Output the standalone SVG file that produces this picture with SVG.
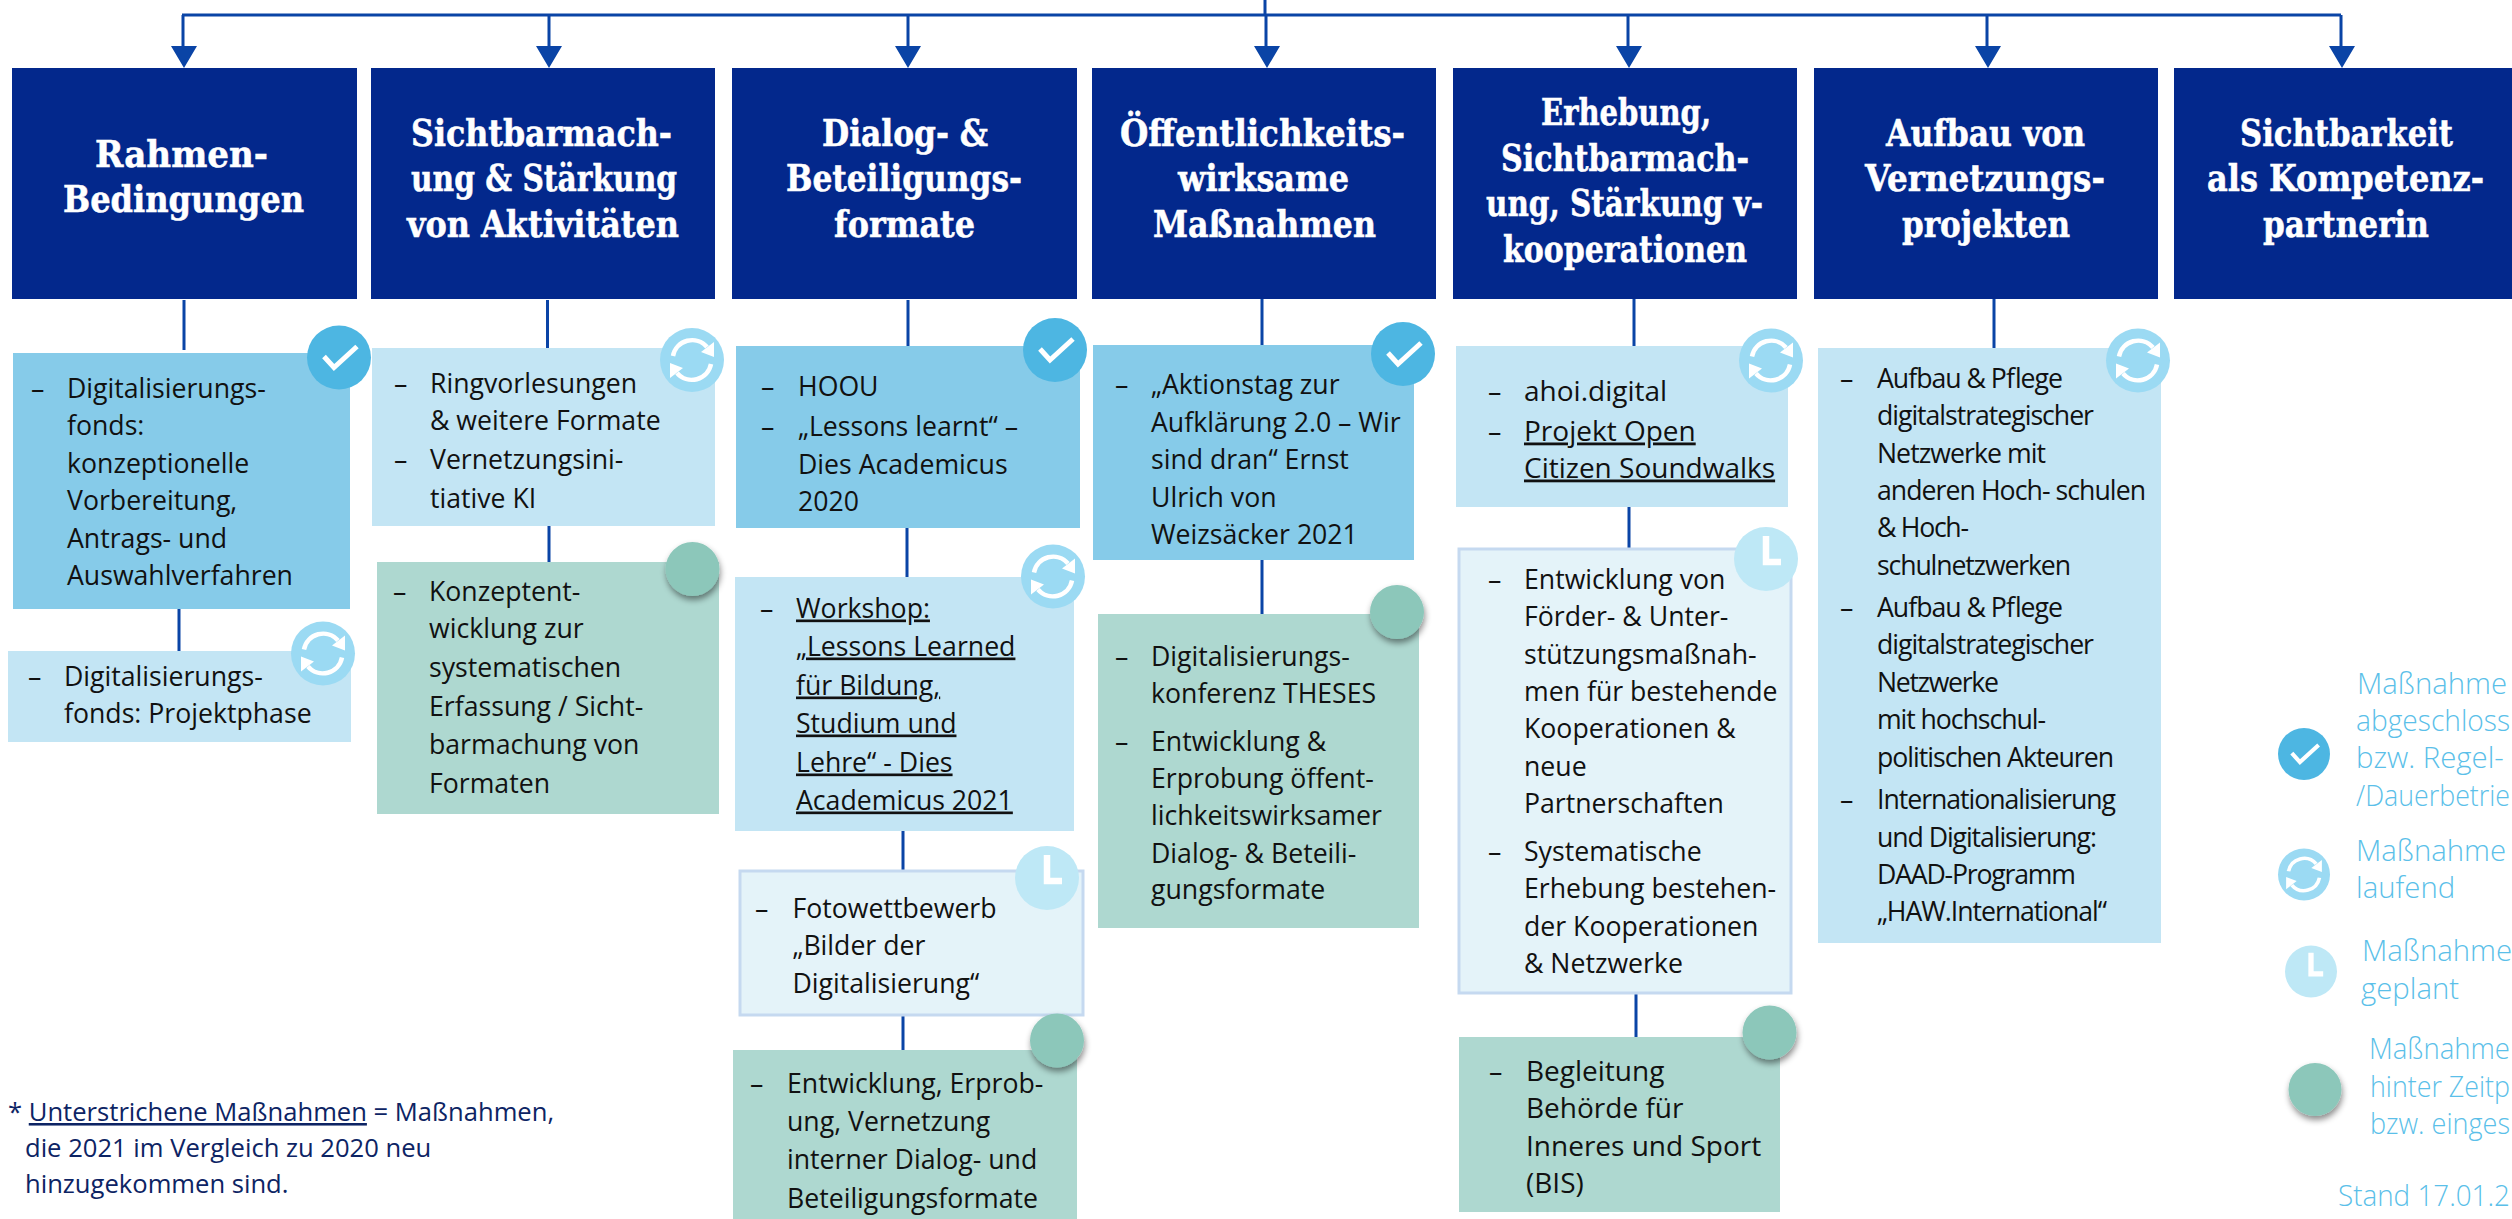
<svg xmlns="http://www.w3.org/2000/svg" width="2512" height="1219" viewBox="0 0 2512 1219">
<style>
.h{fill:#03288c}
.t{font-family:"DejaVu Serif Condensed","DejaVu Serif","Liberation Serif",serif;font-weight:700;font-size:37px;fill:#fff;stroke:#fff;stroke-width:.5}
.b{font-family:"Open Sans","Noto Sans",sans-serif;font-size:26.67px;fill:#111;transform:translateY(.5px)}
.k{font-size:28px}
.u{text-decoration:underline}
.m{fill:#86cbe9}.l{fill:#c3e5f4}.g{fill:#aed8d0}
.p{fill:#e4f3f9;stroke:#c5d9f0;stroke-width:3}
.c{stroke:#0a44a6;stroke-width:3;fill:none}
.a{fill:#0a44a6}
.lg{font-family:"Open Sans","Noto Sans",sans-serif;font-weight:300;font-size:29.33px;fill:#5bbfe9}
.f{font-family:"Open Sans","Noto Sans",sans-serif;font-size:25.6px;fill:#0d2464}
</style>
<defs>
<filter id="sh" x="-30%" y="-30%" width="160%" height="170%"><feDropShadow dx="1" dy="4" stdDeviation="3" flood-color="#000" flood-opacity="0.45"/></filter>
<g id="ic-check"><circle r="32" fill="#4db6e2"/><path d="M-15,-1 L-5,10 L18,-11" fill="none" stroke="#fff" stroke-width="5"/></g>
<g id="ic-ref"><circle r="32" fill="#9bdaf3"/><g fill="none" stroke="#fff" stroke-width="4.5"><path d="M-19,-4 A19.5,19.5 0 0 1 15,-13"/><path d="M19,4 A19.5,19.5 0 0 1 -15,13"/></g><path d="M9,-8 L22,-3 L22,-18 Z M-9,8 L-22,3 L-22,18 Z" fill="#fff"/></g>
<g id="ic-clock"><circle r="32" fill="#bee8f6"/><path d="M0,-23 V3 H15" fill="none" stroke="#fff" stroke-width="6.5"/></g>
<circle id="ic-g" r="27" fill="#8cc7ba" filter="url(#sh)"/>
</defs>
<g id="connectors">
<path class="c" d="M1265,0 V15 M182,15 H2341 M183,15 V50 M549,15 V50 M908,15 V50 M1266,15 V50 M1628,15 V50 M1987,15 V50 M2341,15 V50"/>
<path class="a" d="M171,46 H197 L184,68 Z M536,46 H562 L549,68 Z M895,46 H921 L908,68 Z M1254,46 H1280 L1267,68 Z M1616,46 H1642 L1629,68 Z M1975,46 H2001 L1988,68 Z M2329,46 H2355 L2342,68 Z"/>
<path class="c" d="M184,300 V350 M179,609 V651 M547.5,300 V350 M549,526 V562 M908,300 V346 M907,528 V577 M903,831 V871 M903,1015 V1050 M1262,299 V347 M1262,560 V614 M1634,299 V346 M1629,507 V549 M1636,993 V1037 M1994,299 V348"/>
</g>
<g id="h1"><rect class="h" x="12" y="68" width="345" height="231"/><text class="t" x="95" y="167" textLength="173" lengthAdjust="spacingAndGlyphs">Rahmen-</text><text class="t" x="63" y="212" textLength="241" lengthAdjust="spacingAndGlyphs">Bedingungen</text></g>
<g id="h2"><rect class="h" x="371" y="68" width="344" height="231"/><text class="t" x="411" y="146" textLength="261" lengthAdjust="spacingAndGlyphs">Sichtbarmach-</text><text class="t" x="411" y="191" textLength="266" lengthAdjust="spacingAndGlyphs">ung &amp; Stärkung</text><text class="t" x="407" y="237" textLength="272" lengthAdjust="spacingAndGlyphs">von Aktivitäten</text></g>
<g id="h3"><rect class="h" x="732" y="68" width="345" height="231"/><text class="t" x="822" y="146" textLength="166" lengthAdjust="spacingAndGlyphs">Dialog- &amp;</text><text class="t" x="786" y="191" textLength="236" lengthAdjust="spacingAndGlyphs">Beteiligungs-</text><text class="t" x="834" y="237" textLength="141" lengthAdjust="spacingAndGlyphs">formate</text></g>
<g id="h4"><rect class="h" x="1092" y="68" width="344" height="231"/><text class="t" x="1120" y="146" textLength="285" lengthAdjust="spacingAndGlyphs">Öffentlichkeits-</text><text class="t" x="1178" y="191" textLength="171" lengthAdjust="spacingAndGlyphs">wirksame</text><text class="t" x="1153" y="237" textLength="223" lengthAdjust="spacingAndGlyphs">Maßnahmen</text></g>
<g id="h5"><rect class="h" x="1453" y="68" width="344" height="231"/><text class="t" x="1541" y="125" textLength="170" lengthAdjust="spacingAndGlyphs">Erhebung,</text><text class="t" x="1501" y="171" textLength="248" lengthAdjust="spacingAndGlyphs">Sichtbarmach-</text><text class="t" x="1486" y="216" textLength="277" lengthAdjust="spacingAndGlyphs">ung, Stärkung v-</text><text class="t" x="1503" y="262" textLength="244" lengthAdjust="spacingAndGlyphs">kooperationen</text></g>
<g id="h6"><rect class="h" x="1814" y="68" width="344" height="231"/><text class="t" x="1886" y="146" textLength="199" lengthAdjust="spacingAndGlyphs">Aufbau von</text><text class="t" x="1865" y="191" textLength="240" lengthAdjust="spacingAndGlyphs">Vernetzungs-</text><text class="t" x="1902" y="237" textLength="168" lengthAdjust="spacingAndGlyphs">projekten</text></g>
<g id="h7"><rect class="h" x="2174" y="68" width="338" height="231"/><text class="t" x="2240" y="146" textLength="213" lengthAdjust="spacingAndGlyphs">Sichtbarkeit</text><text class="t" x="2207" y="191" textLength="277" lengthAdjust="spacingAndGlyphs">als Kompetenz-</text><text class="t" x="2263" y="237" textLength="166" lengthAdjust="spacingAndGlyphs">partnerin</text></g>

<g id="a1"><rect class="m" x="13" y="353" width="337" height="256"/><text class="b" x="31" y="397">–</text><text class="b" x="67" y="397">Digitalisierungs-</text><text class="b" x="67" y="434">fonds:</text><text class="b" x="67" y="472">konzeptionelle</text><text class="b" x="67" y="509">Vorbereitung,</text><text class="b" x="67" y="547">Antrags- und</text><text class="b" x="67" y="584">Auswahlverfahren</text><use href="#ic-check" transform="translate(339,357.5)"/></g>
<g id="a2"><rect class="l" x="8" y="651" width="343" height="91"/><text class="b" x="28" y="685">–</text><text class="b" x="64" y="685">Digitalisierungs-</text><text class="b" x="64" y="722">fonds: Projektphase</text><use href="#ic-ref" transform="translate(323,653.5)"/></g>
<g id="b1"><rect class="l" x="372" y="348" width="343" height="178"/><text class="b" x="394" y="392">–</text><text class="b" x="430" y="392">Ringvorlesungen</text><text class="b" x="430" y="429">&amp; weitere Formate</text><text class="b" x="394" y="468">–</text><text class="b" x="430" y="468">Vernetzungsini-</text><text class="b" x="430" y="507">tiative KI</text><use href="#ic-ref" transform="translate(692,360)"/></g>
<g id="b2"><rect class="g" x="377" y="562" width="342" height="252"/><text class="b" x="393" y="600">–</text><text class="b" x="429" y="600">Konzeptent-</text><text class="b" x="429" y="637">wicklung zur</text><text class="b" x="429" y="676">systematischen</text><text class="b" x="429" y="715">Erfassung / Sicht-</text><text class="b" x="429" y="753">barmachung von</text><text class="b" x="429" y="792">Formaten</text><use href="#ic-g" transform="translate(692.5,569)"/></g>
<g id="c1"><rect class="m" x="736" y="346" width="344" height="182"/><text class="b" x="761" y="395">–</text><text class="b" x="798" y="395">HOOU</text><text class="b" x="761" y="435">–</text><text class="b" x="798" y="435">„Lessons learnt“ –</text><text class="b" x="798" y="473">Dies Academicus</text><text class="b" x="798" y="510">2020</text><use href="#ic-check" transform="translate(1055,350)"/></g>
<g id="c2"><rect class="l" x="735" y="577" width="339" height="254"/><text class="b" x="760" y="617">–</text><text class="b u" x="796" y="617">Workshop:</text><text class="b u" x="796" y="655">„Lessons Learned</text><text class="b u" x="796" y="694">für Bildung,</text><text class="b u" x="796" y="732">Studium und</text><text class="b u" x="796" y="771">Lehre“ - Dies</text><text class="b u" x="796" y="809">Academicus 2021</text><use href="#ic-ref" transform="translate(1053,576.5)"/></g>
<g id="c3"><rect class="p" x="740" y="871" width="343" height="144"/><text class="b" x="755" y="917">–</text><text class="b" x="792.5" y="917">Fotowettbewerb</text><text class="b" x="792.5" y="954">„Bilder der</text><text class="b" x="792.5" y="992">Digitalisierung“</text><use href="#ic-clock" transform="translate(1047,878)"/></g>
<g id="c4"><rect class="g" x="733" y="1050" width="344" height="169"/><text class="b" x="750" y="1092">–</text><text class="b" x="787" y="1092">Entwicklung, Erprob-</text><text class="b" x="787" y="1130">ung, Vernetzung</text><text class="b" x="787" y="1168">interner Dialog- und</text><text class="b" x="787" y="1207">Beteiligungsformate</text><use href="#ic-g" transform="translate(1057,1040.5)"/></g>
<g id="d1"><rect class="m" x="1093" y="345" width="321" height="215"/><text class="b" x="1115" y="393">–</text><text class="b" x="1151" y="393">„Aktionstag zur</text><text class="b" x="1151" y="431">Aufklärung 2.0 – Wir</text><text class="b" x="1151" y="468">sind dran“ Ernst</text><text class="b" x="1151" y="506">Ulrich von</text><text class="b" x="1151" y="543">Weizsäcker 2021</text><use href="#ic-check" transform="translate(1403,354)"/></g>
<g id="d2"><rect class="g" x="1098" y="614" width="321" height="314"/><text class="b" x="1115" y="665">–</text><text class="b" x="1151" y="665">Digitalisierungs-</text><text class="b" x="1151" y="702">konferenz THESES</text><text class="b" x="1115" y="750">–</text><text class="b" x="1151" y="750">Entwicklung &amp;</text><text class="b" x="1151" y="787">Erprobung öffent-</text><text class="b" x="1151" y="824">lichkeitswirksamer</text><text class="b" x="1151" y="862">Dialog- &amp; Beteili-</text><text class="b" x="1151" y="898">gungsformate</text><use href="#ic-g" transform="translate(1397,612)"/></g>
<g id="e1"><rect class="l" x="1456" y="346" width="332" height="161"/><text class="b" x="1488" y="400">–</text><text class="b k" x="1524" y="400">ahoi.digital</text><text class="b" x="1488" y="440">–</text><text class="b u k" x="1524" y="440">Projekt Open</text><text class="b u k" x="1524" y="477">Citizen Soundwalks</text><use href="#ic-ref" transform="translate(1771,360.5)"/></g>
<g id="e2"><rect class="p" x="1459" y="549" width="332" height="444"/><text class="b" x="1488" y="588">–</text><text class="b" x="1524" y="588">Entwicklung von</text><text class="b" x="1524" y="625">Förder- &amp; Unter-</text><text class="b" x="1524" y="663">stützungsmaßnah-</text><text class="b" x="1524" y="700">men für bestehende</text><text class="b" x="1524" y="737">Kooperationen &amp;</text><text class="b" x="1524" y="775">neue</text><text class="b" x="1524" y="812">Partnerschaften</text><text class="b" x="1488" y="860">–</text><text class="b" x="1524" y="860">Systematische</text><text class="b" x="1524" y="897">Erhebung bestehen-</text><text class="b" x="1524" y="935">der Kooperationen</text><text class="b" x="1524" y="972">&amp; Netzwerke</text><use href="#ic-clock" transform="translate(1766,559)"/></g>
<g id="e3"><rect class="g" x="1459" y="1037" width="321" height="175"/><text class="b" x="1489" y="1080">–</text><text class="b k" x="1526" y="1080">Begleitung</text><text class="b k" x="1526" y="1117">Behörde für</text><text class="b k" x="1526" y="1155">Inneres und Sport</text><text class="b k" x="1526" y="1192">(BIS)</text><use href="#ic-g" transform="translate(1769.5,1032.5)"/></g>
<g id="f1"><rect class="l" x="1818" y="348" width="343" height="595"/><text class="b" x="1840" y="387">–</text><text class="b" x="1877" y="387" textLength="186">Aufbau &amp; Pflege</text><text class="b" x="1877" y="424" textLength="217">digitalstrategischer</text><text class="b" x="1877" y="462" textLength="169">Netzwerke mit</text><text class="b" x="1877" y="499" textLength="269">anderen Hoch- schulen</text><text class="b" x="1877" y="536" textLength="92">&amp; Hoch-</text><text class="b" x="1877" y="574" textLength="194">schulnetzwerken</text><text class="b" x="1840" y="616">–</text><text class="b" x="1877" y="616" textLength="186">Aufbau &amp; Pflege</text><text class="b" x="1877" y="653" textLength="217">digitalstrategischer</text><text class="b" x="1877" y="691" textLength="122">Netzwerke</text><text class="b" x="1877" y="728" textLength="169">mit hochschul-</text><text class="b" x="1877" y="766" textLength="237">politischen Akteuren</text><text class="b" x="1840" y="808">–</text><text class="b" x="1877" y="808" textLength="239">Internationalisierung</text><text class="b" x="1877" y="846" textLength="220">und Digitalisierung:</text><text class="b" x="1877" y="883" textLength="199">DAAD-Programm</text><text class="b" x="1877" y="920" textLength="230">„HAW.International“</text><use href="#ic-ref" transform="translate(2138,360.5)"/></g>

<g id="legend">
<use href="#ic-check" transform="translate(2304,754) scale(.8125)"/>
<use href="#ic-ref" transform="translate(2304,874.5) scale(.8125)"/>
<use href="#ic-clock" transform="translate(2311,971.5) scale(.8125)"/>
<circle cx="2315" cy="1089.5" r="26.5" fill="#8cc7ba" filter="url(#sh)"/>
<g class="lg">
<text x="2357" y="694">Maßnahme</text><text x="2356" y="731" textLength="154" lengthAdjust="spacingAndGlyphs">abgeschloss</text><text x="2356" y="768">bzw. Regel-</text><text x="2356" y="806" textLength="154" lengthAdjust="spacingAndGlyphs">/Dauerbetrie</text>
<text x="2356" y="861">Maßnahme</text><text x="2356" y="898">laufend</text>
<text x="2362" y="961">Maßnahme</text><text x="2361" y="999">geplant</text>
<text x="2369" y="1059" textLength="141" lengthAdjust="spacingAndGlyphs">Maßnahme</text><text x="2370" y="1097" textLength="140" lengthAdjust="spacingAndGlyphs">hinter Zeitp</text><text x="2370" y="1134" textLength="140" lengthAdjust="spacingAndGlyphs">bzw. einges</text>
<text x="2338" y="1206" textLength="172" lengthAdjust="spacingAndGlyphs">Stand 17.01.2</text>
</g></g>
<g id="footnote" class="f"><text x="8" y="1121">* <tspan class="u">Unterstrichene Maßnahmen</tspan> = Maßnahmen,</text><text x="25" y="1157">die 2021 im Vergleich zu 2020 neu</text><text x="25" y="1193">hinzugekommen sind.</text></g>
</svg>
